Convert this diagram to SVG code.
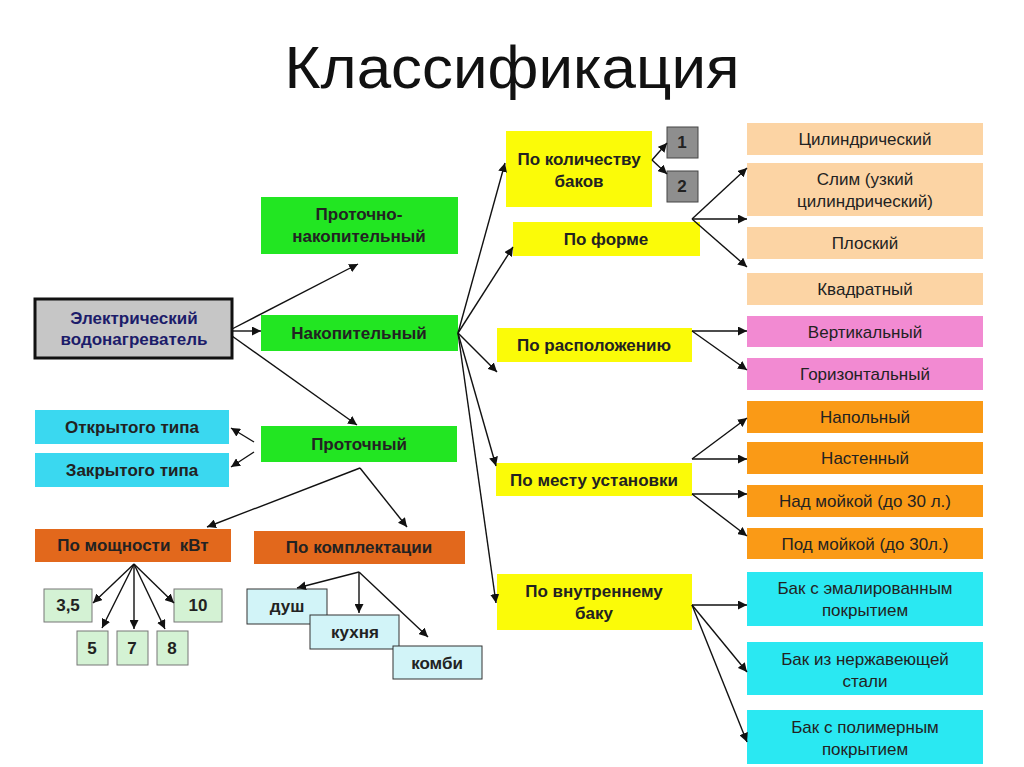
<svg xmlns="http://www.w3.org/2000/svg" width="1024" height="767" viewBox="0 0 1024 767">
<defs>
<marker id="ah" viewBox="0 0 10 10" refX="10" refY="5" markerWidth="9" markerHeight="9" markerUnits="userSpaceOnUse" orient="auto">
<path d="M0,0 L10,5 L0,10 z" fill="#111"/>
</marker>
<style>
text{font-family:"Liberation Sans",Arial,sans-serif;fill:#222;text-anchor:middle}
.b{font-weight:bold;font-size:17px}
.r{font-size:17px}
.t{font-size:60px;fill:#111}
.gray{fill:#c6c6c6;stroke:#111;stroke-width:3}
.green{fill:#22e622}
.cyan{fill:#3ad8f0}
.brown{fill:#e2681c}
.lgreen{fill:#d4f2d4;stroke:#777;stroke-width:1}
.lcyan{fill:#d2f4f8;stroke:#333;stroke-width:1}
.yellow{fill:#fbfb08}
.num{fill:#8e8e8e;stroke:#444;stroke-width:1}
.peach{fill:#fcd4a4}
.pink{fill:#f28ad2}
.orange{fill:#fa9a16}
.cyan2{fill:#2ae8f2}
.c line{stroke:#111;stroke-width:1.4;marker-end:url(#ah)}
</style>
</defs>
<rect width="1024" height="767" fill="#fff"/>
<text class="t" x="512" y="88" textLength="455" lengthAdjust="spacingAndGlyphs">Классификация</text>

<g id="n-main"><rect class="gray" x="35" y="299" width="197" height="59"/><text class="b" x="134" y="324" style="fill:#1c1c6a">Электрический</text><text class="b" x="134" y="345" style="fill:#1c1c6a">водонагреватель</text></g>
<g id="n-pn"><rect class="green" x="261" y="197" width="197" height="57"/><text class="b" x="359" y="220">Проточно-</text><text class="b" x="359" y="242">накопительный</text></g>
<g id="n-nak"><rect class="green" x="261" y="315" width="197" height="36"/><text class="b" x="359" y="339">Накопительный</text></g>
<g id="n-pro"><rect class="green" x="261" y="426" width="196" height="36"/><text class="b" x="359" y="450">Проточный</text></g>
<g id="n-open"><rect class="cyan" x="35" y="410" width="194" height="34"/><text class="b" x="132" y="433">Открытого типа</text></g>
<g id="n-closed"><rect class="cyan" x="35" y="453" width="194" height="34"/><text class="b" x="132" y="476">Закрытого типа</text></g>
<g id="n-power"><rect class="brown" x="35" y="529" width="196" height="33"/><text class="b" x="133" y="551" style="white-space:pre">По мощности  кВт</text></g>
<g id="n-kit"><rect class="brown" x="254" y="531" width="211" height="33"/><text class="b" x="359" y="553">По комплектации</text></g>
<g id="n-35"><rect class="lgreen" x="44" y="589" width="48" height="33"/><text class="b" x="68" y="611">3,5</text></g>
<g id="n-10"><rect class="lgreen" x="174" y="589" width="48" height="33"/><text class="b" x="198" y="611">10</text></g>
<g id="n-5"><rect class="lgreen" x="77" y="631" width="31" height="34"/><text class="b" x="92" y="654">5</text></g>
<g id="n-7"><rect class="lgreen" x="117" y="631" width="31" height="34"/><text class="b" x="132" y="654">7</text></g>
<g id="n-8"><rect class="lgreen" x="157" y="631" width="31" height="34"/><text class="b" x="172" y="654">8</text></g>
<g id="n-dush"><rect class="lcyan" x="247" y="589" width="80" height="35"/><text class="b" x="287" y="612">душ</text></g>
<g id="n-kuh"><rect class="lcyan" x="310" y="615" width="89" height="34"/><text class="b" x="355" y="638">кухня</text></g>
<g id="n-kombi"><rect class="lcyan" x="393" y="646" width="89" height="33"/><text class="b" x="437" y="669">комби</text></g>

<g id="n-kol"><rect class="yellow" x="506" y="131" width="146" height="76"/><text class="b" x="579" y="165">По количеству</text><text class="b" x="579" y="187">баков</text></g>
<g id="n-1"><rect class="num" x="667" y="127" width="31" height="31"/><text class="b" x="682" y="148">1</text></g>
<g id="n-2"><rect class="num" x="667" y="171" width="31" height="31"/><text class="b" x="682" y="192">2</text></g>
<g id="n-forma"><rect class="yellow" x="513" y="222" width="187" height="34"/><text class="b" x="606" y="245">По форме</text></g>
<g id="n-rasp"><rect class="yellow" x="497" y="328" width="195" height="34"/><text class="b" x="594" y="351">По расположению</text></g>
<g id="n-mesto"><rect class="yellow" x="496" y="463" width="196" height="33"/><text class="b" x="594" y="486">По месту установки</text></g>
<g id="n-vnutr"><rect class="yellow" x="497" y="574" width="195" height="56"/><text class="b" x="594" y="597">По внутреннему</text><text class="b" x="594" y="619">баку</text></g>

<g id="n-cil"><rect class="peach" x="747" y="123" width="236" height="32"/><text class="r" x="865" y="145">Цилиндрический</text></g>
<g id="n-slim"><rect class="peach" x="747" y="163" width="236" height="53"/><text class="r" x="865" y="185">Слим (узкий</text><text class="r" x="865" y="207">цилиндрический)</text></g>
<g id="n-plos"><rect class="peach" x="747" y="227" width="236" height="32"/><text class="r" x="865" y="249">Плоский</text></g>
<g id="n-kvad"><rect class="peach" x="747" y="273" width="236" height="32"/><text class="r" x="865" y="295">Квадратный</text></g>
<g id="n-vert"><rect class="pink" x="747" y="316" width="236" height="31"/><text class="r" x="865" y="338">Вертикальный</text></g>
<g id="n-gor"><rect class="pink" x="747" y="358" width="236" height="32"/><text class="r" x="865" y="380">Горизонтальный</text></g>
<g id="n-napol"><rect class="orange" x="747" y="401" width="236" height="32"/><text class="r" x="865" y="423">Напольный</text></g>
<g id="n-nast"><rect class="orange" x="747" y="442" width="236" height="32"/><text class="r" x="865" y="464">Настенный</text></g>
<g id="n-nad"><rect class="orange" x="747" y="485" width="236" height="32"/><text class="r" x="865" y="507">Над мойкой (до 30 л.)</text></g>
<g id="n-pod"><rect class="orange" x="747" y="528" width="236" height="31"/><text class="r" x="865" y="550">Под мойкой (до 30л.)</text></g>
<g id="n-emal"><rect class="cyan2" x="747" y="572" width="236" height="54"/><text class="r" x="865" y="594">Бак с эмалированным</text><text class="r" x="865" y="616">покрытием</text></g>
<g id="n-nerzh"><rect class="cyan2" x="747" y="642" width="236" height="53"/><text class="r" x="865" y="665">Бак из нержавеющей</text><text class="r" x="865" y="687">стали</text></g>
<g id="n-polim"><rect class="cyan2" x="747" y="710" width="236" height="54"/><text class="r" x="865" y="733">Бак с полимерным</text><text class="r" x="865" y="755">покрытием</text></g>

<g id="connectors" class="c">
<line x1="232" y1="329" x2="358" y2="264"/>
<line x1="232" y1="331" x2="261" y2="331"/>
<line x1="232" y1="336" x2="357" y2="425"/>
<line x1="254" y1="442" x2="231" y2="428"/>
<line x1="254" y1="452" x2="231" y2="467"/>
<line x1="360" y1="468" x2="207" y2="527"/>
<line x1="360" y1="468" x2="407" y2="527"/>
<line x1="134" y1="564" x2="93" y2="603"/>
<line x1="134" y1="564" x2="102" y2="628"/>
<line x1="134" y1="564" x2="134" y2="629"/>
<line x1="134" y1="564" x2="165" y2="629"/>
<line x1="134" y1="564" x2="174" y2="603"/>
<line x1="359" y1="572" x2="297" y2="588"/>
<line x1="359" y1="572" x2="359" y2="613"/>
<line x1="359" y1="572" x2="428" y2="637"/>
<line x1="458" y1="333" x2="505" y2="163"/>
<line x1="458" y1="333" x2="513" y2="247"/>
<line x1="458" y1="333" x2="497" y2="372"/>
<line x1="458" y1="333" x2="496" y2="466"/>
<line x1="458" y1="333" x2="496" y2="603"/>
<line x1="652" y1="160" x2="667" y2="143"/>
<line x1="652" y1="160" x2="667" y2="174"/>
<line x1="692" y1="219" x2="747" y2="168"/>
<line x1="692" y1="219" x2="747" y2="219"/>
<line x1="692" y1="219" x2="747" y2="267"/>
<line x1="692" y1="331" x2="747" y2="331"/>
<line x1="692" y1="331" x2="747" y2="370"/>
<line x1="692" y1="459" x2="747" y2="418"/>
<line x1="692" y1="459" x2="747" y2="459"/>
<line x1="692" y1="494" x2="747" y2="494"/>
<line x1="692" y1="494" x2="747" y2="536"/>
<line x1="692" y1="605" x2="747" y2="605"/>
<line x1="692" y1="605" x2="747" y2="672"/>
<line x1="692" y1="605" x2="747" y2="742"/>
</g>
</svg>
